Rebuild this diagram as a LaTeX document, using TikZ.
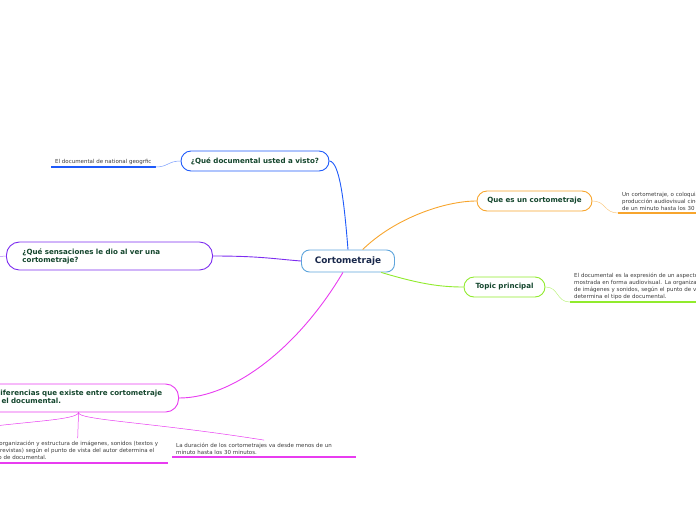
\documentclass[tikz,border=0pt]{standalone}
\usepackage{fontspec}
\setmainfont{DejaVu Sans}
\usetikzlibrary{calc}

\definecolor{bluel}{RGB}{30,90,250}
\definecolor{purplel}{RGB}{125,45,240}
\definecolor{orangel}{RGB}{247,165,45}
\definecolor{greenl}{RGB}{145,235,45}
\definecolor{magental}{RGB}{232,60,240}
\definecolor{centralb}{RGB}{95,165,220}
\definecolor{txtgreen}{RGB}{20,70,45}
\definecolor{txtnavy}{RGB}{25,40,75}
\definecolor{notegray}{RGB}{60,60,60}

\begin{document}
\begin{tikzpicture}[x=1pt,y=-1pt,
  central/.style={draw=centralb, line width=0.9pt, rounded corners=8pt, fill=white,
    minimum width=93pt, minimum height=22pt, text=txtnavy,
    font=\fontsize{8.9}{10}\selectfont\bfseries},
  topic/.style={line width=0.9pt, rounded corners=10pt, fill=white,
    minimum height=20pt, inner sep=0pt, text=txtgreen,
    font=\fontsize{7.1}{8}\selectfont\bfseries},
  bigtopic/.style={topic, minimum height=28pt, rounded corners=13pt,
    inner xsep=16pt, align=left},
  note/.style={inner xsep=4pt, inner ysep=2.5pt, align=left, text=notegray,
    font=\fontsize{5.5}{7}\selectfont},
  link/.style={line width=0.9pt},
  sublink/.style={line width=0.5pt},
  uline/.style={line width=1.3pt}]
\useasboundingbox (0,0) rectangle (696,520);

% Central topic
\node[central] (cort) at (348,261) {Cortometraje};

% Main topics
\node[topic, draw=bluel, minimum width=148pt] (visto) at (255,161) {¿Qué documental usted a visto?};
\node[topic, draw=orangel, minimum width=115pt] (quees) at (534.5,201) {Que es un cortometraje};
\node[topic, draw=greenl, minimum width=81pt] (topic) at (504.5,287) {Topic principal};
\node[bigtopic, draw=purplel, text width=174pt, anchor=west] (sens) at (6,256)
  {¿Qué sensaciones le dio al ver una\\cortometraje?};
\node[bigtopic, draw=magental, text width=168pt, anchor=east] (dif) at (179,398)
  {Diferencias que existe entre\,\,cortometraje\\y el documental.};

% Notes
\node[note, minimum width=104pt, anchor=south west] (natgeo) at (51,167) {El documental de national geogrfic};
\node[note, text width=200pt, anchor=south west] (defcort) at (618,213)
  {Un cortometraje, o coloquialmente corto, es una\\producción audiovisual cinematográfica que dura\\de un minuto hasta los 30 minutos.};
\node[note, text width=200pt, anchor=south west] (defdoc) at (570,302)
  {El documental es la expresión de un aspecto de la realidad,\\mostrada en forma audiovisual. La organización y estructura\\de imágenes y sonidos, según el punto de vista del autor,\\determina el tipo de documental.};
\node[note, text width=176pt, anchor=south west] (durac) at (172,457)
  {La duración de los cortometrajes va desde menos de un\\minuto hasta los 30 minutos.};
\node[note, text width=173pt, anchor=south west] (organ) at (-13,463)
  {La organización y estructura de imágenes, sonidos (textos y\\entrevistas) según el punto de vista del autor determina el\\tipo de documental.};

% Underlines
\draw[uline, bluel] (natgeo.south west) -- (natgeo.south east);
\draw[uline, orangel] (defcort.south west) -- (defcort.south east);
\draw[uline, greenl] (defdoc.south west) -- (defdoc.south east);
\draw[uline, magental] (durac.south west) -- (durac.south east);
\draw[uline, magental] (organ.south west) -- (organ.south east);

% Links from the centre
\draw[link, bluel] (visto.east) .. controls +(10,1) and +(-4,-50) .. (cort.north);
\draw[link, orangel] (cort.38) .. controls (395,218) and (445,201) .. (quees.west);
\draw[link, greenl] (cort.-19) .. controls (420,284) and (440,287) .. (topic.west);
\draw[link, purplel] (sens.east) .. controls (260,256) and (275,259) .. (cort.west);
\draw[link, magental] (cort.246) .. controls (300,345) and (235,398) .. (dif.east);

% Links to the notes
\coordinate (offsens) at (-20,258);
\coordinate (offdif) at (-30,429);
\draw[sublink, bluel!60] (natgeo.south east) .. controls (168,167) and (168,161) .. (visto.west);
\draw[sublink, purplel!60] (sens.west) -- (offsens);
\draw[sublink, orangel!60] (quees.east) .. controls (606,201) and (604,213) .. (defcort.south west);
\draw[sublink, greenl!60] (topic.east) .. controls (559,287) and (556,302) .. (defdoc.south west);
\draw[sublink, magental] (dif.south) -- (organ.north);
\draw[sublink, magental] (dif.south) .. controls (77,420) and (150,422) .. (durac.north);
\draw[sublink, magental] (dif.south) .. controls (77,420) and (30,421) .. (offdif);
\end{tikzpicture}
\end{document}
